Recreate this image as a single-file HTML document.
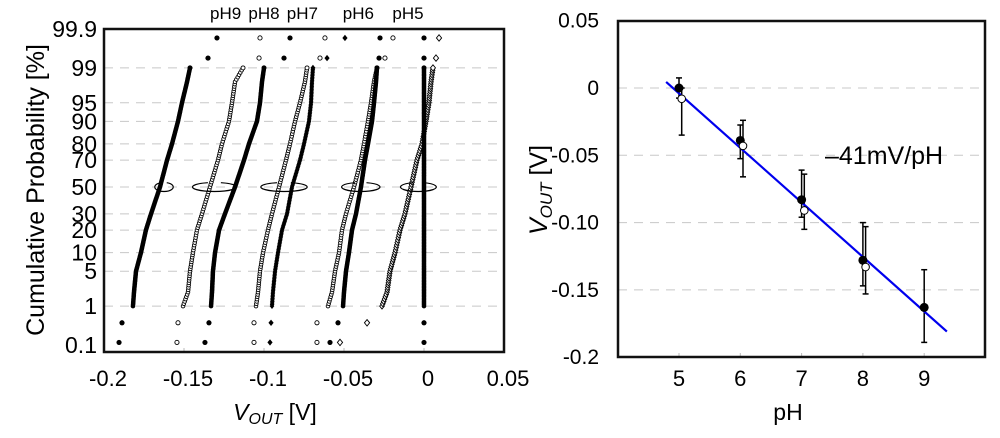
<!DOCTYPE html>
<html><head><meta charset="utf-8"><style>
html,body{margin:0;padding:0;background:#fff;}
svg{display:block;font-family:"Liberation Sans",Arial,sans-serif;}
</style></head><body>
<svg id="c" width="1000" height="438" viewBox="0 0 1000 438" xmlns="http://www.w3.org/2000/svg">
<g id="left"></g>
<g id="right"></g>
</svg>
<script>
// ---------- Left chart data ----------
const probTicks = [99.9,99,95,90,80,70,50,30,20,10,5,1,0.1];
const probTickLabels = ["99.9","99","95","90","80","70","50","30","20","10","5","1","0.1"];
const gridProbs = [99,95,90,80,70,50,30,20,10,5,1];
const xTicksL = [-0.2,-0.15,-0.1,-0.05,0,0.05];
const xTickLabelsL = ["-0.2","-0.15","-0.1","-0.05","0","0.05"];
const probLevels = [0.12,0.4,1,2,5,10,20,30,50,70,80,90,95,98,99,99.41,99.82];
// series values in mV at probLevels
const s9a = [-190.6,-188.75,-181.9,-181.25,-180,-176.9,-173.8,-170.6,-165,-160.6,-157.5,-153.75,-151.25,-148.1,-146.25,-135,-129.4];
const s9b = [-154.4,-153.75,-150.6,-147.5,-146.25,-144.4,-141.9,-138.75,-133.75,-128.75,-126.25,-121.9,-120,-118.1,-113.1,-103.1,-102.5];
const s8a = [-136.9,-134.4,-133.1,-132.5,-131.9,-130.6,-128.1,-124.4,-118.1,-112.5,-109.4,-104.4,-102.5,-101.25,-100,-87.5,-83.75];
const s7b = [-106.25,-106.25,-105,-103.75,-102.5,-100.6,-97.5,-95,-90.6,-86.25,-83.75,-80.6,-77.5,-74.4,-73.1,-65,-61.9];
const s7a = [-96.25,-95.6,-95,-94.4,-93.1,-91.25,-88.75,-85.6,-82.5,-77.5,-75,-71.9,-70.6,-70,-69.4,-60.6,-49.4];
const s6b = [-66.9,-66.9,-60,-57.5,-55.6,-53.1,-51.25,-48.75,-43.75,-39.4,-37.5,-35,-33.1,-31.25,-29.4,-24.4,-19.4];
const s6a = [-58.75,-53.75,-50.6,-50,-48.75,-46.9,-45,-42.5,-39.4,-36.9,-35,-32.5,-31.25,-30,-29.4,-28.1,-27.5];
const s5b = [-52.5,-35.6,-26.25,-23.1,-21.25,-18.1,-15,-11.9,-8.1,-4.4,-1.25,1.25,3.1,4.4,5.6,7.5,9.4];
const s5a = [0,0,0,0,0,0,0,0,0,0,0,0,0,0,0,0,0];
const seriesList = [s9a,s9b,s8a,s7b,s7a,s6b,s6a,s5b,s5a];
const seriesMarkers = ["fc","oc","fc","oc","fd","oc","fc","od","fc"];
const phLabels = ["pH9","pH8","pH7","pH6","pH5"];
const phLabelV = [-0.124,-0.1,-0.076,-0.041,-0.01];
const ellipseCenters = [-0.1625,-0.131,-0.0875,-0.0395,-0.0035];
const ellipseWidths = [0.0058,0.0137,0.0145,0.012,0.0112];

// ---------- Right chart data ----------
const phValues = [5,6,7,8,9];
const voutFilled = [0,-0.039,-0.083,-0.128,-0.163];
const errUpFilled = [0.0075,0.0115,0.022,0.028,0.028];
const errDnFilled = [0.0075,0.0135,0.013,0.019,0.026];
const phOpen = [5,6,7,8];
const voutOpen = [-0.008,-0.043,-0.091,-0.133];
const errUpOpen = [0.008,0.019,0.027,0.030];
const errDnOpen = [0.027,0.023,0.014,0.020];
const fitRange = [4.79,9.37];
const fitSlope = -0.0405;
const fitIntercept = 0.0045; // at fitRange[0]
const yTicksR = [0.05,0,-0.05,-0.1,-0.15,-0.2];
const yTickLabelsR = ["0.05","0","-0.05","-0.10","-0.15","-0.2"];
const xTicksR = [5,6,7,8,9];

const NS="http://www.w3.org/2000/svg";
function mk(parent,tag,attrs){const e=document.createElementNS(NS,tag);for(const k in attrs)e.setAttribute(k,attrs[k]);parent.appendChild(e);return e;}

function probit(p){
  const a=[-39.69683028665376,220.9460984245205,-275.9285104469687,138.3577518672690,-30.66479806614716,2.506628277459239];
  const b=[-54.47609879822406,161.5858368580409,-155.6989798598866,66.80131188771972,-13.28068155288572];
  const c=[-0.007784894002430293,-0.3223964580411365,-2.400758277161838,-2.549732539343734,4.374664141464968,2.938163982698783];
  const d=[0.007784695709041462,0.3224671290700398,2.445134137142996,3.754408661907416];
  const pl=0.02425;let q,r;
  if(p<pl){q=Math.sqrt(-2*Math.log(p));return (((((c[0]*q+c[1])*q+c[2])*q+c[3])*q+c[4])*q+c[5])/((((d[0]*q+d[1])*q+d[2])*q+d[3])*q+1);}
  if(p>1-pl){q=Math.sqrt(-2*Math.log(1-p));return -(((((c[0]*q+c[1])*q+c[2])*q+c[3])*q+c[4])*q+c[5])/((((d[0]*q+d[1])*q+d[2])*q+d[3])*q+1);}
  q=p-0.5;r=q*q;return (((((a[0]*r+a[1])*r+a[2])*r+a[3])*r+a[4])*r+a[5])*q/(((((b[0]*r+b[1])*r+b[2])*r+b[3])*r+b[4])*r+1);
}
const L={x0:104,x1:504,y0:29,y1:352};
const xL=v=>L.x0+(v-(-0.2))/(0.25)*(L.x1-L.x0);
const yL=p=>187-51.2*probit(p/100);

const gl=document.getElementById('left');
gridProbs.forEach(p=>{const e=mk(gl,'line',{x1:L.x0,x2:L.x1,y1:yL(p),y2:yL(p),stroke:'#c8c8c8','stroke-width':1,'stroke-dasharray':'9,7'});

});
xTicksL.forEach((t,i)=>{const x=xL(t);
 mk(gl,'line',{x1:x,x2:x,y1:L.y1,y2:L.y1-4,stroke:'#bbb','stroke-width':1});
 const tx=mk(gl,'text',{x:x+4,y:386,'font-size':22,'text-anchor':'middle',fill:'#000'});tx.textContent=xTickLabelsL[i];
 
 });
probTicks.forEach((p,i)=>{const tx=mk(gl,'text',{x:97,y:yL(p)+8,'font-size':23,'text-anchor':'end',fill:'#000'});tx.textContent=probTickLabels[i];
 
 });
function marker(g,type,x,y,r){
 if(type==='fc')return mk(g,'circle',{cx:x,cy:y,r:r,fill:'#000'});
 if(type==='oc')return mk(g,'circle',{cx:x,cy:y,r:r-0.5,fill:'#fff',stroke:'#000','stroke-width':0.9});
 const pts=`${x},${y-r-0.6} ${x+r},${y} ${x},${y+r+0.6} ${x-r},${y}`;
 if(type==='fd')return mk(g,'polygon',{points:pts,fill:'#000'});
 return mk(g,'polygon',{points:pts,fill:'#fff',stroke:'#000','stroke-width':0.9});
}
seriesList.forEach((s,si)=>{
 const g=mk(gl,'g',{});
 
 
 const type=seriesMarkers[si];
 [0,1,15,16].forEach(i=>{const m=marker(g,type,xL(s[i]/1000),yL(probLevels[i]),2.6);
  
  });
 for(let i=2;i<14;i++){
  const ya=yL(probLevels[i]),yb=yL(probLevels[i+1]);
  const n=Math.max(2,Math.round(Math.abs(yb-ya)/(type==='fc'||type==='fd'?1.5:2.4)));
  for(let k=0;k<n;k++){const f=k/n;const v=(s[i]+(s[i+1]-s[i])*f)/1000;
   const m=marker(g,type,xL(v),ya+(yb-ya)*f,2.3);
   
   }
 }
 const m=marker(g,type,xL(s[14]/1000),yL(probLevels[14]),2.5);
 
 
});
ellipseCenters.forEach((c,i)=>{const cx=xL(c),rx=ellipseWidths[i]*1600,cy=yL(50),ry=4.5;
 const a0=-Math.PI/2-0.3,a1=-Math.PI/2+0.3;
 const e=mk(gl,'path',{d:`M${cx+rx*Math.cos(a0)},${cy+ry*Math.sin(a0)} A${rx},${ry} 0 1 0 ${cx+rx*Math.cos(a1)},${cy+ry*Math.sin(a1)}`,fill:'none',stroke:'#000','stroke-width':1.2});
 
 });
phLabels.forEach((t,i)=>{const tx=mk(gl,'text',{x:xL(phLabelV[i]),y:19,'font-size':17,'text-anchor':'middle',fill:'#000'});tx.textContent=t;
 
 });
let fr=mk(gl,'rect',{x:L.x0,y:L.y0,width:L.x1-L.x0,height:L.y1-L.y0,fill:'none',stroke:'#111','stroke-width':2.5});


let yt=mk(gl,'text',{x:0,y:0,'font-size':25,'text-anchor':'middle',transform:'translate(44,190) rotate(-90)'});yt.textContent='Cumulative Probability [%]';


let xt=mk(gl,'text',{x:275,y:420,'font-size':23,'text-anchor':'middle'});
xt.innerHTML='<tspan font-style="italic">V</tspan><tspan font-style="italic" font-size="16" dy="4">OUT</tspan><tspan dy="-4"> [V]</tspan>';



// ---------- Right chart ----------
const R={x0:618,x1:985,y0:21,y1:357};
const xR=p=>679+(p-5)*61.3;
const yR=v=>88-v*1346;
const gr=document.getElementById('right');
yTicksR.forEach((t,i)=>{const y=yR(t);
 if(t<0.04&&t>-0.19){const e=mk(gr,'line',{x1:R.x0,x2:R.x1,y1:y,y2:y,stroke:'#c8c8c8','stroke-width':1,'stroke-dasharray':'9,7'});
  
  }
 const tx=mk(gr,'text',{x:599,y:y+7,'font-size':21,'text-anchor':'end'});tx.textContent=yTickLabelsR[i];
 
 });
xTicksR.forEach(t=>{const x=xR(t);
 mk(gr,'line',{x1:x,x2:x,y1:R.y1,y2:R.y1-4,stroke:'#bbb'});
 const tx=mk(gr,'text',{x:x,y:386,'font-size':22,'text-anchor':'middle'});tx.textContent=String(t);
 
 });
function errbar(x,v,up,dn){const g=mk(gr,'g',{stroke:'#000','stroke-width':1.5});
 mk(g,'line',{x1:x,x2:x,y1:yR(v+up),y2:yR(v-dn)});
 mk(g,'line',{x1:x-3,x2:x+3,y1:yR(v+up),y2:yR(v+up)});
 mk(g,'line',{x1:x-3,x2:x+3,y1:yR(v-dn),y2:yR(v-dn)});
 
 }
phValues.forEach((p,i)=>errbar(xR(p),voutFilled[i],errUpFilled[i],errDnFilled[i]));
phOpen.forEach((p,i)=>errbar(xR(p)+2.7,voutOpen[i],errUpOpen[i],errDnOpen[i]));
let fl=mk(gr,'line',{x1:xR(fitRange[0]),y1:yR(fitIntercept),x2:xR(fitRange[1]),y2:yR(fitIntercept+fitSlope*(fitRange[1]-fitRange[0])),stroke:'#0000ee','stroke-width':2.2});


phValues.forEach((p,i)=>{const c=mk(gr,'circle',{cx:xR(p),cy:yR(voutFilled[i]),r:4.5,fill:'#000'});
 
 });
phOpen.forEach((p,i)=>{const c=mk(gr,'circle',{cx:xR(p)+2.7,cy:yR(voutOpen[i]),r:3.8,fill:'#fff',stroke:'#000','stroke-width':1});
 
 });
let ann=mk(gr,'text',{x:825,y:164,'font-size':25});ann.textContent='\u201341mV/pH';


let fr2=mk(gr,'rect',{x:R.x0,y:R.y0,width:R.x1-R.x0,height:R.y1-R.y0,fill:'none',stroke:'#111','stroke-width':2.5});


let yt2=mk(gr,'text',{x:0,y:0,'font-size':25,'text-anchor':'middle',transform:'translate(547,190) rotate(-90)'});
yt2.innerHTML='<tspan font-style="italic">V</tspan><tspan font-style="italic" font-size="17" dy="5">OUT</tspan><tspan dy="-5"> [V]</tspan>';


let xt2=mk(gr,'text',{x:788,y:420,'font-size':23,'text-anchor':'middle'});xt2.textContent='pH';


</script>
</body></html>
